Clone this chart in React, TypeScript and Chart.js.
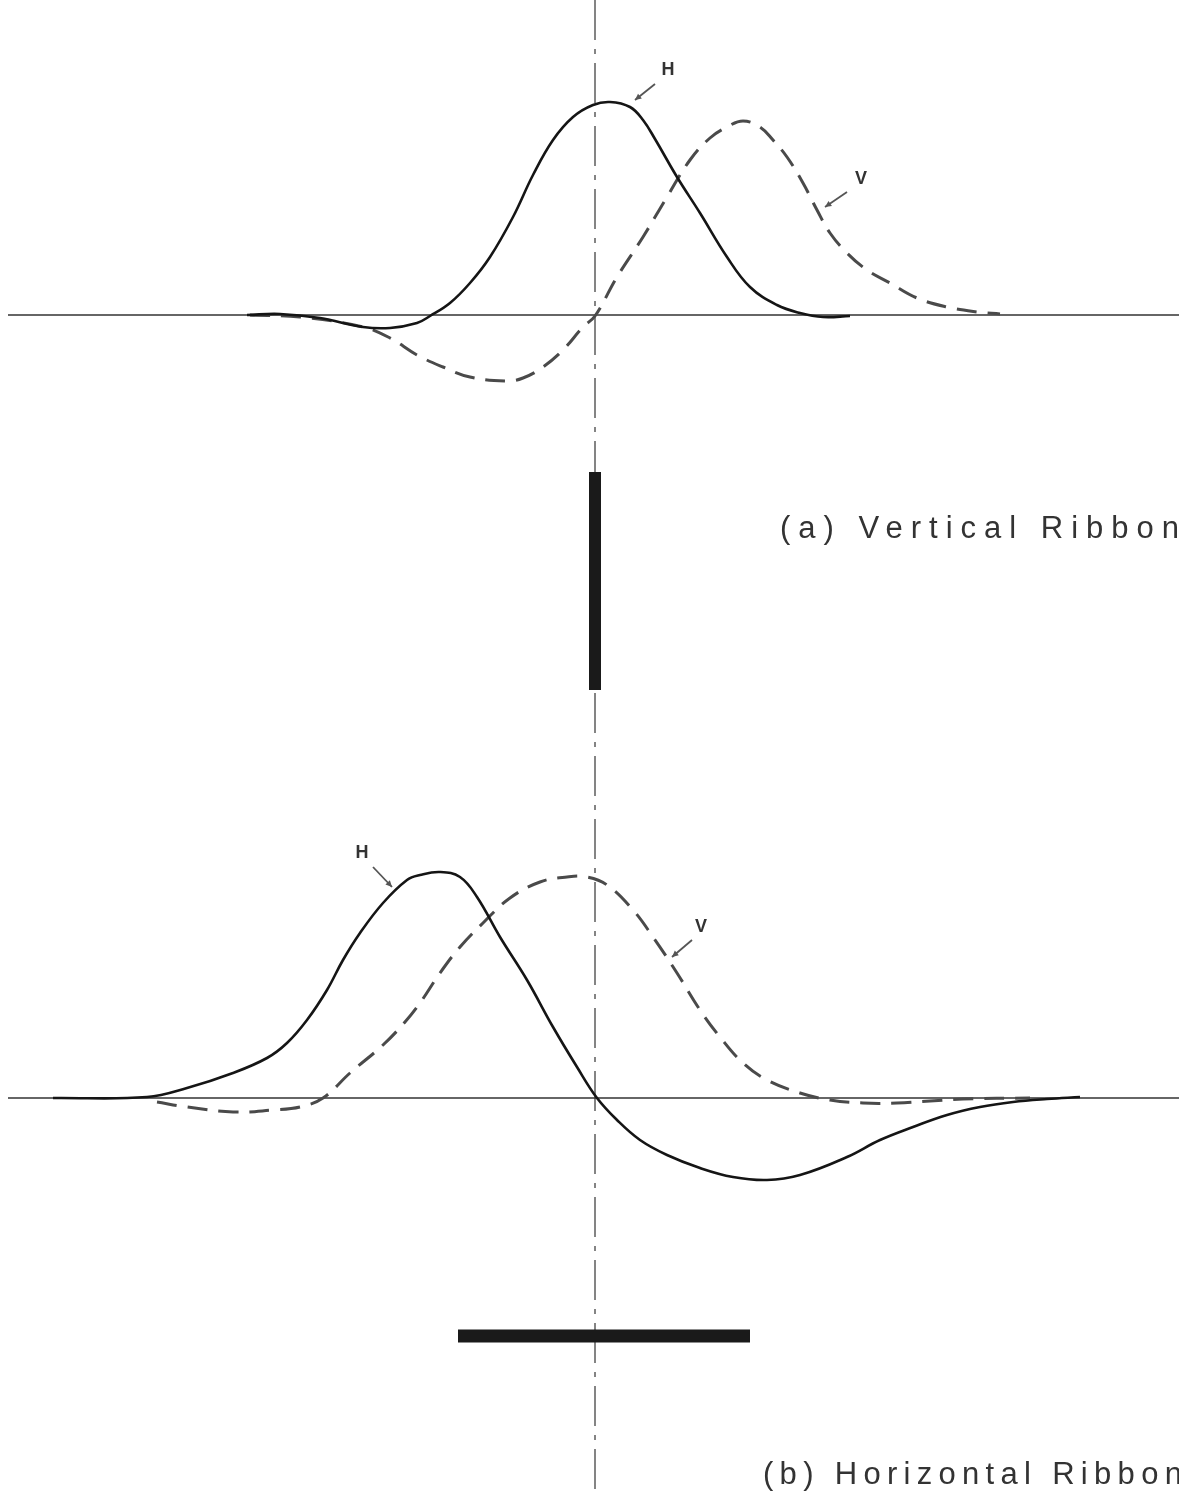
import React, { useEffect, useRef } from "react";
import { Chart, registerables } from "chart.js";

Chart.register(...registerables);

// x: horizontal position relative to the centre line; y: response amplitude (arbitrary units)
// (a) Vertical ribbon
const TOP_H_X = [-3.48, -3.15, -2.75, -2.32, -2.05, -1.78, -1.65, -1.45, -1.25, -1.05, -0.82, -0.62, -0.42, -0.22, -0.02, 0.15, 0.35, 0.48, 0.6, 0.82, 1.05, 1.32, 1.55, 1.82, 2.05, 2.28, 2.55];
const TOP_H_Y = [0, 0.01, -0.03, -0.12, -0.13, -0.08, -0.01, 0.12, 0.32, 0.58, 0.98, 1.4, 1.75, 1.98, 2.1, 2.13, 2.08, 1.95, 1.76, 1.38, 1.02, 0.58, 0.28, 0.1, 0.02, -0.02, -0.01];
const TOP_V_X = [-3.45, -2.95, -2.32, -2.05, -1.78, -1.52, -1.25, -0.88, -0.72, -0.52, -0.32, -0.12, 0, 0.22, 0.48, 0.72, 0.95, 1.15, 1.32, 1.48, 1.65, 1.78, 1.92, 2.08, 2.22, 2.35, 2.52, 2.72, 2.95, 3.22, 3.52, 3.82, 4.05];
const TOP_V_Y = [0, -0.02, -0.12, -0.23, -0.4, -0.52, -0.62, -0.66, -0.63, -0.52, -0.35, -0.12, -0.01, 0.38, 0.78, 1.18, 1.55, 1.77, 1.88, 1.94, 1.88, 1.75, 1.58, 1.32, 1.05, 0.82, 0.62, 0.45, 0.32, 0.17, 0.08, 0.03, 0.01];
// (b) Horizontal ribbon
const BOT_H_X = [-5.42, -4.48, -4.08, -3.62, -3.28, -3.08, -2.88, -2.68, -2.52, -2.35, -2.12, -1.88, -1.75, -1.55, -1.35, -1.18, -0.95, -0.68, -0.42, -0.18, 0.02, 0.22, 0.45, 0.72, 1.05, 1.38, 1.72, 2.05, 2.52, 2.85, 3.18, 3.52, 3.85, 4.18, 4.52, 4.85];
const BOT_H_Y = [0, 0.01, 0.1, 0.25, 0.4, 0.55, 0.78, 1.08, 1.38, 1.65, 1.95, 2.18, 2.23, 2.26, 2.21, 2.01, 1.61, 1.18, 0.71, 0.31, 0, -0.22, -0.42, -0.57, -0.7, -0.79, -0.82, -0.77, -0.59, -0.42, -0.29, -0.17, -0.09, -0.04, -0.01, 0.01];
const BOT_V_X = [-4.38, -4.08, -3.62, -3.22, -2.95, -2.72, -2.45, -2.12, -1.9, -1.75, -1.55, -1.35, -1.12, -0.85, -0.55, -0.28, -0.08, 0.12, 0.38, 0.58, 0.82, 1.05, 1.25, 1.48, 1.72, 2.05, 2.35, 2.68, 3.02, 3.35, 3.68, 4.35];
const BOT_V_Y = [-0.04, -0.09, -0.14, -0.12, -0.09, 0, 0.25, 0.53, 0.76, 0.95, 1.25, 1.51, 1.75, 2.0, 2.16, 2.21, 2.21, 2.13, 1.88, 1.61, 1.25, 0.88, 0.61, 0.35, 0.18, 0.05, -0.02, -0.05, -0.05, -0.03, -0.01, 0];

// ribbons (thick bars) and baselines
const TOP_RIBBON_X = [0, 0];
const TOP_RIBBON_Y = [-1.57, -3.75];
const BOT_RIBBON_X = [-1.37, 1.55];
const BOT_RIBBON_Y = [-2.38, -2.38];
const BASELINE_X = [-5.87, 5.84];

// curve labels with arrows
const LABEL_TEXT = ["H", "V", "H", "V"];
const LABEL_PANEL = ["y", "y", "y2", "y2"];
const LABEL_X = [0.73, 2.66, -2.33, 1.06];
const LABEL_Y = [2.45, 1.36, 2.45, 1.71];
const ARROW_FROM_X = [0.6, 2.52, -2.22, 0.97];
const ARROW_FROM_Y = [2.31, 1.23, 2.31, 1.58];
const ARROW_TO_X = [0.4, 2.3, -2.03, 0.77];
const ARROW_TO_Y = [2.15, 1.08, 2.11, 1.41];

const CAPTIONS = ["(a) Vertical Ribbon", "(b) Horizontal Ribbon"];
const CAPTION_PANEL = ["y", "y2"];
const CAPTION_X = [1.85, 1.68];
const CAPTION_Y = [-2.23, -3.86];
const CAPTION_SPACING = ["8px", "6.3px"];

const pts = (xs: number[], ys: number[]) => xs.map((x, i) => ({ x, y: ys[i] }));

const annotationPlugin = {
  id: "annotations",
  beforeDraw(chart: any) {
    const { ctx } = chart;
    ctx.save();
    ctx.fillStyle = "#ffffff";
    ctx.fillRect(0, 0, chart.width, chart.height);
    ctx.restore();
  },
  afterDatasetsDraw(chart: any) {
    const { ctx, scales } = chart;
    const xs = scales.x;
    ctx.save();
    LABEL_TEXT.forEach((t, i) => {
      const ys = scales[LABEL_PANEL[i]];
      ctx.fillStyle = "#333";
      ctx.font = "bold 18px 'Liberation Sans', Arial, sans-serif";
      ctx.textAlign = "center";
      ctx.textBaseline = "middle";
      ctx.fillText(t, xs.getPixelForValue(LABEL_X[i]), ys.getPixelForValue(LABEL_Y[i]));
      const x1 = xs.getPixelForValue(ARROW_FROM_X[i]);
      const y1 = ys.getPixelForValue(ARROW_FROM_Y[i]);
      const x2 = xs.getPixelForValue(ARROW_TO_X[i]);
      const y2 = ys.getPixelForValue(ARROW_TO_Y[i]);
      ctx.strokeStyle = "#555";
      ctx.lineWidth = 1.8;
      ctx.beginPath();
      ctx.moveTo(x1, y1);
      ctx.lineTo(x2, y2);
      ctx.stroke();
      const a = Math.atan2(y2 - y1, x2 - x1);
      const L = 7;
      ctx.fillStyle = "#555";
      ctx.beginPath();
      ctx.moveTo(x2, y2);
      ctx.lineTo(x2 - L * Math.cos(a - 0.45), y2 - L * Math.sin(a - 0.45));
      ctx.lineTo(x2 - L * Math.cos(a + 0.45), y2 - L * Math.sin(a + 0.45));
      ctx.closePath();
      ctx.fill();
    });
    CAPTIONS.forEach((t, i) => {
      const ys = scales[CAPTION_PANEL[i]];
      ctx.fillStyle = "#333";
      ctx.font = "31px 'Liberation Sans', Arial, sans-serif";
      (ctx as any).letterSpacing = CAPTION_SPACING[i];
      ctx.textAlign = "left";
      ctx.textBaseline = "alphabetic";
      ctx.fillText(t, xs.getPixelForValue(CAPTION_X[i]), ys.getPixelForValue(CAPTION_Y[i]));
    });
    ctx.restore();
  },
};

export default function App() {
  const ref = useRef<HTMLCanvasElement | null>(null);
  useEffect(() => {
    if (!ref.current) return;
    const solid = { borderColor: "#151515", borderWidth: 2.6, tension: 0.4, pointRadius: 0, order: 2 };
    const dashed = { borderColor: "#4a4a4a", borderWidth: 3, borderDash: [20, 11], tension: 0.4, pointRadius: 0, order: 3 };
    const chart = new Chart(ref.current, {
      type: "line",
      data: {
        datasets: [
          { label: "centre", data: pts([0, 0], [3.15, -11.79]), yAxisID: "y", borderColor: "#666", borderWidth: 1.6, borderDash: [40, 9, 5, 9], pointRadius: 0, tension: 0, order: 10 },
          { label: "base a", data: pts(BASELINE_X, [0, 0]), yAxisID: "y", borderColor: "#333", borderWidth: 1.5, pointRadius: 0, tension: 0, order: 9 },
          { label: "base b", data: pts(BASELINE_X, [0, 0]), yAxisID: "y2", borderColor: "#333", borderWidth: 1.5, pointRadius: 0, tension: 0, order: 9 },
          { label: "H a", data: pts(TOP_H_X, TOP_H_Y), yAxisID: "y", ...solid },
          { label: "V a", data: pts(TOP_V_X, TOP_V_Y), yAxisID: "y", ...dashed },
          { label: "H b", data: pts(BOT_H_X, BOT_H_Y), yAxisID: "y2", ...solid },
          { label: "V b", data: pts(BOT_V_X, BOT_V_Y), yAxisID: "y2", ...dashed },
          { label: "ribbon a", data: pts(TOP_RIBBON_X, TOP_RIBBON_Y), yAxisID: "y", borderColor: "#1a1a1a", borderWidth: 12, borderCapStyle: "butt", pointRadius: 0, tension: 0, order: 0 },
          { label: "ribbon b", data: pts(BOT_RIBBON_X, BOT_RIBBON_Y), yAxisID: "y2", borderColor: "#1a1a1a", borderWidth: 13, borderCapStyle: "butt", pointRadius: 0, tension: 0, order: 0 },
        ] as any,
      },
      options: {
        animation: false,
        responsive: false,
        maintainAspectRatio: false,
        layout: { padding: 0 },
        plugins: { legend: { display: false }, title: { display: false }, tooltip: { enabled: false } },
        scales: {
          x: { type: "linear", min: -5.95, max: 5.84, display: false },
          y: { type: "linear", min: -11.79, max: 3.15, display: false },
          y2: { type: "linear", min: -3.96, max: 10.98, display: false },
        },
      },
      plugins: [annotationPlugin],
    });
    return () => chart.destroy();
  }, []);
  return (
    <div style={{ position: "absolute", left: 0, top: 0, width: 1179, height: 1494, background: "#fff" }}>
      <canvas ref={ref} width={1179} height={1494} style={{ width: 1179, height: 1494, display: "block" }} />
    </div>
  );
}
